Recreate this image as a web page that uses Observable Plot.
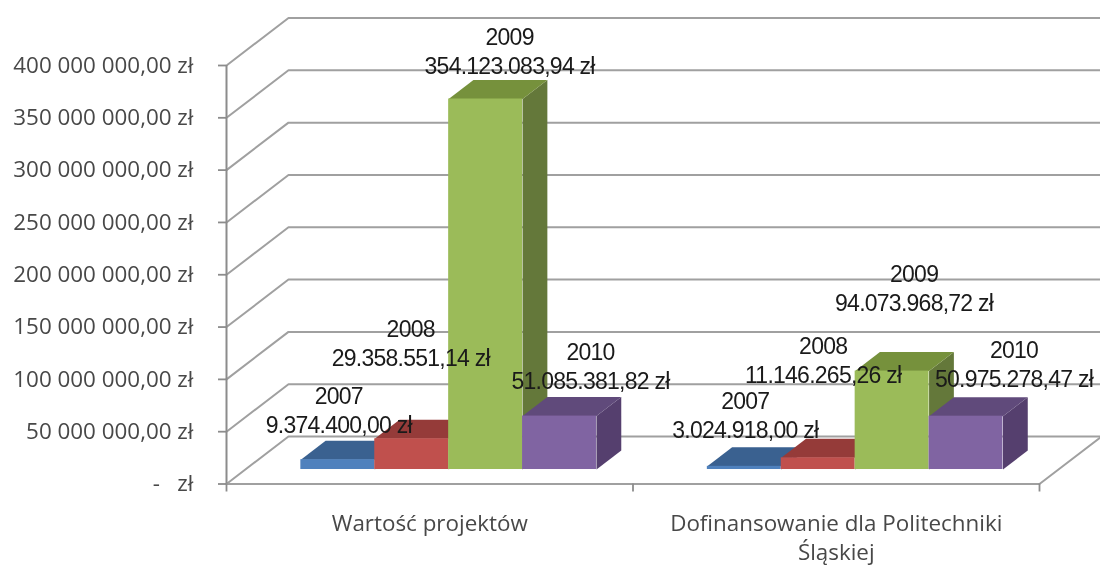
<!DOCTYPE html>
<html>
<head>
<meta charset="utf-8">
<script src="https://cdn.jsdelivr.net/npm/d3@7"></script>
<script src="https://cdn.jsdelivr.net/npm/@observablehq/plot@0.6"></script>
<style>
html,body{margin:0;padding:0;background:#fff;overflow:hidden}
svg{display:block;filter:blur(0.5px)}
.bar-label text{letter-spacing:-0.75px}
</style>
</head>
<body>
<div id="chart"></div>
<script>
// ---- data ----
const categories = ["Wartość projektów", "Dofinansowanie dla Politechniki\nŚląskiej"];
const years = ["2007", "2008", "2009", "2010"];
const valuesProjects = [9374400.00, 29358551.14, 354123083.94, 51085381.82];
const valuesFunding = [3024918.00, 11146265.26, 94073968.72, 50975278.47];
const labelsProjects = ["9.374.400,00 zł", "29.358.551,14 zł", "354.123.083,94 zł", "51.085.381,82 zł"];
const labelsFunding = ["3.024.918,00 zł", "11.146.265,26 zł", "94.073.968,72 zł", "50.975.278,47 zł"];
const yTicks = [0, 5e7, 1e8, 1.5e8, 2e8, 2.5e8, 3e8, 3.5e8, 4e8];
const yTickLabels = ["-\u00a0\u00a0\u00a0zł", "50 000 000,00 zł", "100 000 000,00 zł", "150 000 000,00 zł", "200 000 000,00 zł", "250 000 000,00 zł", "300 000 000,00 zł", "350 000 000,00 zł", "400 000 000,00 zł"];

// ---- styles ----
const front = ["#4f81bd", "#c0504d", "#9bbb59", "#8064a2"];
const topFace = ["#3a6190", "#953b39", "#76913c", "#604a7b"];
const sideFace = ["#335580", "#843432", "#64783a", "#553f6e"];
const gridColor = "#a0a0a0";
const axisColor = "#8c8c8c";
const axisFont = "'Open Sans', sans-serif";
const labelFont = "'Liberation Sans', sans-serif";

// ---- oblique projection, in data units ----
const depthX = 0.1525;      // category units for full floor depth
const depthY = 45.4e6;      // value units for full floor depth
const barWidth = 1 / 5.5;
const gap = 0.75 * barWidth;
const depth0 = 0.305, depth1 = 0.705;
const gridEnd = 2.2;
const P = (x, v, d) => ({x: x + d * depthX, y: v + d * depthY});

// label placement relative to the top-centre of each bar's front (px)
const labelOffsets = [
  [[1, -50], [-1, -97], [24, -49], [31, -51]],
  [[1, -52], [5, -99], [22, -84], [48, -53]]
];

const series = [valuesProjects, valuesFunding];
const seriesLabels = [labelsProjects, labelsFunding];

const gridPts = yTicks.flatMap((v) => [
  {...P(0, v, 0), k: v},
  {...P(0, v, 1), k: v},
  {x: v === 0 ? 2 + depthX : gridEnd, y: v + depthY, k: v}
]);

const floorPts = [P(0, 0, 0), P(2, 0, 0), P(2, 0, 1)];

const barMarks = [];
const labelMarks = [];
series.forEach((vals, c) => {
  vals.forEach((v, i) => {
    const x0 = c + gap + i * barWidth, x1 = x0 + barWidth;
    const base = depth0 * depthY, baseX = depth0 * depthX;
    const side = [P(x1, v, depth0), P(x1, v, depth1), P(x1, 0, depth1), P(x1, 0, depth0)];
    const top = [P(x0, v, depth0), P(x0, v, depth1), P(x1, v, depth1), P(x1, v, depth0)];
    barMarks.push(
      Plot.line(side, {x: "x", y: "y", fill: sideFace[i], stroke: "none"}),
      Plot.line(top, {x: "x", y: "y", fill: topFace[i], stroke: "none"}),
      Plot.rect([{x1: x0 + baseX, x2: x1 + baseX, y1: base, y2: base + v}], {x1: "x1", x2: "x2", y1: "y1", y2: "y2", fill: front[i]})
    );
    const [dx, dy] = labelOffsets[c][i];
    labelMarks.push(
      Plot.text([{x: (x0 + x1) / 2 + baseX, y: base + v, t: years[i] + "\n" + seriesLabels[c][i]}], {
        x: "x", y: "y", text: "t", dx, dy,
        fontSize: 23, lineHeight: 29 / 23, fontFamily: labelFont, fill: "#1a1a1a",
        className: "bar-label"
      })
    );
  });
});

const chart = Plot.plot({
  width: 1100,
  height: 568,
  marginLeft: 226,
  marginRight: 61,
  marginTop: 65,
  marginBottom: 84.5,
  x: {type: "linear", domain: [0, 2]},
  y: {type: "linear", domain: [0, 4e8]},
  style: {background: "#fff"},
  marks: [
    Plot.line(gridPts, {x: "x", y: "y", z: "k", stroke: gridColor, strokeWidth: 2}),
    Plot.line(floorPts, {x: "x", y: "y", stroke: gridColor, strokeWidth: 2}),
    Plot.ruleX([0], {y1: 0, y2: 4e8, stroke: axisColor, strokeWidth: 2}),
    Plot.axisY(yTicks, {
      anchor: "left", tickSize: 8, tickPadding: 25, stroke: axisColor, strokeWidth: 1.8,
      tickFormat: (d) => yTickLabels[yTicks.indexOf(d)],
      fontSize: 22.4, fontFamily: axisFont, fill: "#484848", label: null
    }),
    Plot.axisX([0, 1, 2], {
      anchor: "bottom", tickSize: 8, stroke: axisColor, strokeWidth: 1.8,
      tickFormat: () => "", label: null
    }),
    ...barMarks,
    ...labelMarks,
    Plot.text(categories, {
      x: (d, i) => i + 0.5, y: 0, text: (d) => d, dy: 26, lineAnchor: "top",
      fontSize: 22.4, lineHeight: 29 / 22.4, fontFamily: axisFont, fill: "#484848"
    })
  ]
});
document.getElementById("chart").appendChild(chart);
</script>
</body>
</html>
